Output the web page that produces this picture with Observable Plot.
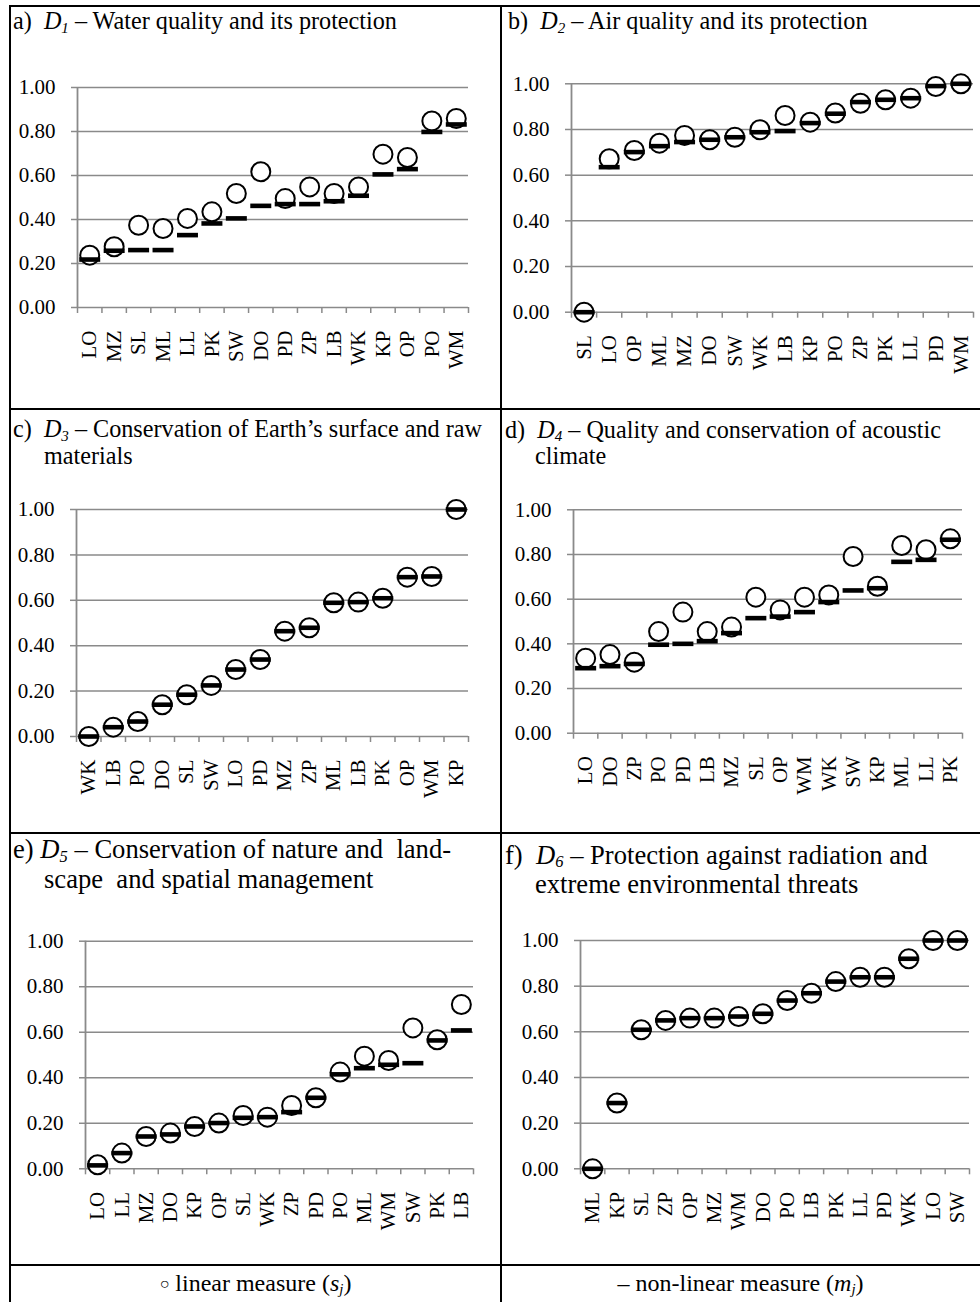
<!DOCTYPE html>
<html><head><meta charset="utf-8">
<script src="https://cdn.jsdelivr.net/npm/d3@7"></script>
<script src="https://cdn.jsdelivr.net/npm/@observablehq/plot@0.6"></script>
<style>
body{margin:0;background:#fff;font-family:"Liberation Serif","Times New Roman",serif;color:#000;}
#fig{position:relative;width:980px;height:1302px;overflow:hidden;background:#fff;}
.ln{position:absolute;background:#000;}
.t{position:absolute;white-space:nowrap;}
.sb{font-size:0.62em;position:relative;top:0.22em;font-style:italic;line-height:0;}
.pw{position:absolute;}
.pw svg{display:block;overflow:visible;}
.lg{position:absolute;font-size:24px;line-height:24px;white-space:nowrap;text-align:center;}
.lg .c{font-size:16px;position:relative;top:-2px;}
</style></head><body><div id="fig"></div>
<script>
// ---- data ----
const yTicks = [0, 0.2, 0.4, 0.6, 0.8, 1.0];

const catsA = ["LO","MZ","SL","ML","LL","PK","SW","DO","PD","ZP","LB","WK","KP","OP","PO","WM"];
const linA  = [0.238,0.276,0.374,0.359,0.405,0.435,0.518,0.617,0.495,0.548,0.518,0.548,0.697,0.682,0.848,0.859];
const nonA  = [0.218,0.258,0.261,0.261,0.329,0.382,0.405,0.462,0.470,0.470,0.483,0.508,0.605,0.629,0.798,0.832];

const catsB = ["SL","LO","OP","ML","MZ","DO","SW","WK","LB","KP","PO","ZP","PK","LL","PD","WM"];
const linB  = [0.000,0.672,0.708,0.740,0.774,0.755,0.766,0.799,0.861,0.832,0.872,0.915,0.930,0.937,0.988,1.000];
const nonB  = [0.000,0.635,0.701,0.727,0.745,0.755,0.766,0.788,0.793,0.828,0.869,0.920,0.930,0.937,0.990,1.000];

const catsC = ["WK","LB","PO","DO","SL","SW","LO","PD","MZ","ZP","ML","LB","PK","OP","WM","KP"];
const linC  = [0.000,0.041,0.066,0.140,0.184,0.225,0.295,0.339,0.464,0.479,0.589,0.592,0.609,0.702,0.705,1.000];
const nonC  = [0.000,0.041,0.066,0.140,0.184,0.225,0.295,0.339,0.464,0.479,0.589,0.592,0.609,0.702,0.705,1.000];

const catsD = ["LO","DO","ZP","PO","PD","LB","MZ","SL","OP","WM","WK","SW","KP","ML","LL","PK"];
const linD  = [0.336,0.352,0.318,0.455,0.542,0.455,0.475,0.609,0.552,0.609,0.619,0.791,0.658,0.840,0.821,0.870];
const nonD  = [0.291,0.300,0.310,0.396,0.400,0.412,0.448,0.515,0.522,0.542,0.587,0.639,0.649,0.767,0.776,0.866];

const catsE = ["LO","LL","MZ","DO","KP","OP","SL","WK","ZP","PD","PO","ML","WM","SW","PK","LB"];
const linE  = [0.018,0.069,0.142,0.157,0.186,0.201,0.234,0.227,0.278,0.312,0.425,0.495,0.476,0.619,0.567,0.722];
const nonE  = [0.015,0.069,0.142,0.151,0.186,0.201,0.224,0.227,0.249,0.312,0.415,0.442,0.457,0.464,0.564,0.608];

const catsF = ["ML","KP","SL","ZP","OP","MZ","WM","DO","PO","LB","PK","LL","PD","WK","LO","SW"];
const linF  = [0.000,0.288,0.609,0.650,0.660,0.660,0.667,0.679,0.737,0.769,0.820,0.839,0.839,0.920,1.000,1.000];
const nonF  = [0.000,0.288,0.609,0.650,0.660,0.660,0.667,0.679,0.737,0.769,0.820,0.839,0.839,0.920,1.000,1.000];

// ---- layout ----
const GRAY = "#8a8a8a";
const fig = document.getElementById("fig");

function line(x, y, w, h){
  const d = document.createElement("div");
  d.className = "ln";
  Object.assign(d.style, {left:x+"px", top:y+"px", width:w+"px", height:h+"px"});
  fig.appendChild(d);
}

const dash = { draw(ctx){ ctx.moveTo(-10.5,-2.3); ctx.lineTo(10.5,-2.3); ctx.lineTo(10.5,2.3); ctx.lineTo(-10.5,2.3); ctx.closePath(); } };

function panel(cats, lin, non, cell, box){
  const n = cats.length;
  const data = cats.map((c, i) => ({i, c, s: lin[i], m: non[i]}));
  const bounds = d3.range(n + 1);
  const centers = d3.range(n).map(i => i + 0.5);
  const W = cell.x1 - cell.x0, H = cell.y1 - cell.y0;
  const svg = Plot.plot({
    width: W, height: H,
    marginLeft: box.L - cell.x0, marginRight: cell.x1 - box.R,
    marginTop: box.T - cell.y0, marginBottom: cell.y1 - box.B,
    x: {type: "linear", domain: [0, n], axis: null},
    y: {domain: [0, 1], axis: null},
    style: {background: "none", fontFamily: '"Liberation Serif","Times New Roman",serif', fontSize: "21px", color: "black", overflow: "visible"},
    marks: [
      Plot.gridY(yTicks, {stroke: GRAY, strokeOpacity: 1, strokeWidth: 1.5}),
      Plot.ruleX([0], {stroke: GRAY, strokeWidth: 1.8}),
      Plot.axisY(yTicks, {tickSize: 6, tickPadding: 16, tickFormat: d3.format(".2f"), stroke: GRAY, strokeWidth: 1.5, fill: "black", label: null}),
      Plot.axisX(bounds, {tickSize: 6, tickFormat: () => "", stroke: GRAY, strokeWidth: 1.5, label: null}),
      Plot.axisX(centers, {tickSize: 0, tickPadding: 23, tickRotate: -90, tickFormat: d => cats[Math.floor(d)], fill: "black", label: null}),
      Plot.dot(data, {x: d => d.i + 0.5, y: "s", r: 9.5, fill: "white", stroke: "black", strokeWidth: 2}),
      Plot.dot(data, {x: d => d.i + 0.5, y: "m", symbol: dash, fill: "black", stroke: "none", r: 5})
    ]
  });
  const w = document.createElement("div");
  w.className = "pw";
  Object.assign(w.style, {left: cell.x0 + "px", top: cell.y0 + "px", width: W + "px", height: H + "px"});
  w.appendChild(svg);
  fig.appendChild(w);
}

// title block: first baseline at `baseline`, font size fs, line height lh, hanging indent
function title(html, x, baseline, fs, lh, indent){
  const d = document.createElement("div");
  d.className = "t";
  d.innerHTML = html;
  const top = baseline - ((lh - fs * 1.107) / 2 + fs * 0.891);
  Object.assign(d.style, {left: x + "px", top: top + "px", fontSize: fs + "px", lineHeight: lh + "px",
    paddingLeft: indent + "px", textIndent: (-indent) + "px"});
  fig.appendChild(d);
  return d;
}

const colL = {x0: 11, x1: 500}, colR = {x0: 502, x1: 980};
const rows = [{y0: 7, y1: 408}, {y0: 410, y1: 832}, {y0: 834, y1: 1264}];

panel(catsA, linA, nonA, {...colL, ...rows[0]}, {L: 77, R: 468, T: 87, B: 307});
panel(catsB, linB, nonB, {...colR, ...rows[0]}, {L: 571, R: 973, T: 83.3, B: 311.7});
panel(catsC, linC, nonC, {...colL, ...rows[1]}, {L: 76, R: 468, T: 509, B: 736});
panel(catsD, linD, nonD, {...colR, ...rows[1]}, {L: 573, R: 962, T: 509.3, B: 732.7});
panel(catsE, linE, nonE, {...colL, ...rows[2]}, {L: 85, R: 473, T: 940.7, B: 1168.3});
panel(catsF, linF, nonF, {...colR, ...rows[2]}, {L: 580, R: 969, T: 940, B: 1168.3});

// titles
const D = k => `<i>D</i><span class="sb">${k}</span>`;
title(`a)&nbsp; ${D(1)} – Water quality and its protection`, 13, 29, 24.2, 27, 0);
title(`b)&nbsp; ${D(2)} – Air quality and its protection`, 508, 29, 24.2, 27, 0);
title(`c)&nbsp; ${D(3)} – Conservation of Earth’s surface and raw<br>materials`, 13, 437.7, 24.2, 26.6, 31);
title(`d)&nbsp; ${D(4)} – Quality and conservation of acoustic<br>climate`, 505, 438.3, 24.2, 26.2, 30);
title(`e) ${D(5)} – Conservation of nature and&nbsp; land-<br>scape&nbsp; and spatial management`, 13, 858.3, 26.6, 30, 31);
title(`f)&nbsp; ${D(6)} – Protection against radiation and<br>extreme environmental threats`, 505, 864.3, 26.6, 29.2, 30);

// legend row
function legend(html, x0, x1, baseline){
  const d = document.createElement("div");
  d.className = "lg";
  d.innerHTML = html;
  Object.assign(d.style, {left: x0 + "px", width: (x1 - x0) + "px", top: (baseline - 20.1) + "px"});
  fig.appendChild(d);
}
legend(`<span class="c">○</span> linear measure (<i>s<span class="sb">j</span></i>)`, 10, 501, 1291);
legend(`– non-linear measure (<i>m<span class="sb">j</span></i>)`, 501, 980, 1291);

// table borders
line(9, 5, 971, 2);
line(9, 5, 2, 1297);
line(500, 5, 2, 1297);
line(9, 408, 971, 2);
line(9, 832, 971, 2);
line(9, 1264, 971, 2);
</script>
</body></html>
